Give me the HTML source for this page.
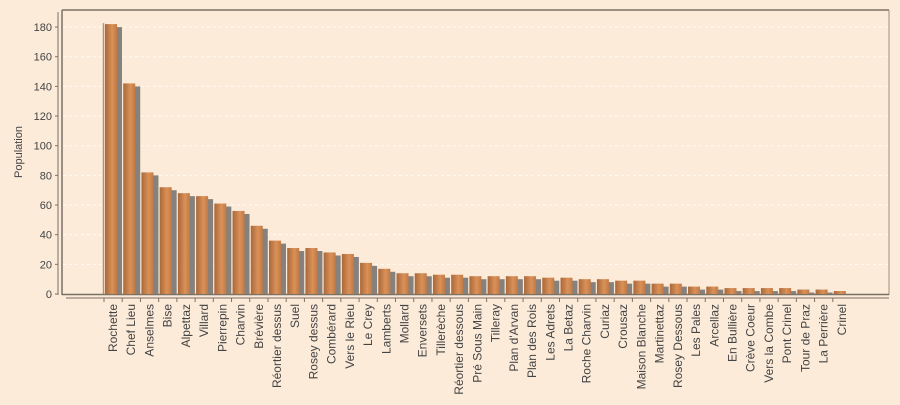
<!DOCTYPE html>
<html><head><meta charset="utf-8"><style>body{margin:0;background:#fcebd9}</style></head><body>
<svg width="900" height="400" xmlns="http://www.w3.org/2000/svg" font-family="Liberation Sans, sans-serif">
<defs><linearGradient id="g" x1="0" x2="1"><stop offset="0" stop-color="#a9683a"/><stop offset="0.6" stop-color="#db9158"/><stop offset="1" stop-color="#c07a45"/></linearGradient></defs>
<rect width="900" height="400" fill="#fcebd9"/>
<g id="grid" stroke="#ffffff" stroke-dasharray="3,3" stroke-opacity="0.8"></g>
<line x1="62" y1="10" x2="889" y2="10" stroke="#7a7166" stroke-width="1.5"/>
<line x1="62" y1="10" x2="62" y2="295" stroke="#7a7166" stroke-width="1.5"/>
<line x1="889" y1="10" x2="889" y2="295" stroke="#9a9086"/>
<line x1="62" y1="294.5" x2="889" y2="294.5" stroke="#7a7166" stroke-width="1.5"/>
<line x1="58" y1="12" x2="58" y2="295" stroke="#7a7166"/>
<line x1="66" y1="298" x2="889" y2="298" stroke="#7a7166"/>
<g id="bars"></g>
<g id="ax" font-size="12" fill="#444"></g>
<text transform="translate(22,152) rotate(-90)" text-anchor="middle" font-size="11" fill="#444">Population</text>
</svg>
<script>
const names=["Rochette","Chef Lieu","Anselmes","Bise","Alpettaz","Villard","Pierrepin","Charvin","Brévière","Réortier dessus","Suel","Rosey dessus","Combérard","Vers le Rieu","Le Crey","Lamberts","Mollard","Enversets","Tillerèche","Réortier dessous","Pré Sous Main","Tilleray","Plan d'Arvan","Plan des Rois","Les Adrets","La Betaz","Roche Charvin","Curiaz","Crousaz","Maison Blanche","Martinettaz","Rosey Dessous","Les Pales","Arcellaz","En Bullière","Crève Coeur","Vers la Combe","Pont Crinel","Tour de Praz","La Perrière","Crinel"];
const v=[182,142,82,72,68,66,61,56,46,36,31,31,28,27,21,17,14,14,13,13,12,12,12,12,11,11,10,10,9,9,7,7,5,5,4,4,4,4,3,3,2];
const ns="http://www.w3.org/2000/svg";
function el(t,a,p,txt){const e=document.createElementNS(ns,t);for(const k in a)e.setAttribute(k,a[k]);if(txt)e.textContent=txt;document.getElementById(p).appendChild(e);}
const y=d=>294-d*1.483;
for(let t=0;t<=180;t+=20){el('text',{x:52,y:y(t)+4,'text-anchor':'end','font-size':11},'ax',String(t));el('line',{x1:55,x2:58,y1:y(t),y2:y(t),stroke:'#7a7166'},'ax');
 if(t>0)el('line',{x1:63,x2:888,y1:y(t),y2:y(t)},'grid');}
el('line',{x1:103.5,x2:103.5,y1:y(182)-1,y2:294,stroke:'#b8906e',"stroke-width":1.5},'bars');
names.forEach((n,i)=>{const x=104+i*18.22;
 el('rect',{x:x+6,y:y(v[i])+3,width:12,height:294-y(v[i])-3,fill:'#86817c'},'bars');
 el('rect',{x:x+1,y:y(v[i]),width:12,height:294-y(v[i]),fill:'url(#g)'},'bars');
 el('line',{x1:x,x2:x,y1:298,y2:302,stroke:'#7a7166'},'ax');
 el('text',{transform:`translate(${x+13},304) rotate(-90)`,'text-anchor':'end'},'ax',n);});
</script>
</body></html>
